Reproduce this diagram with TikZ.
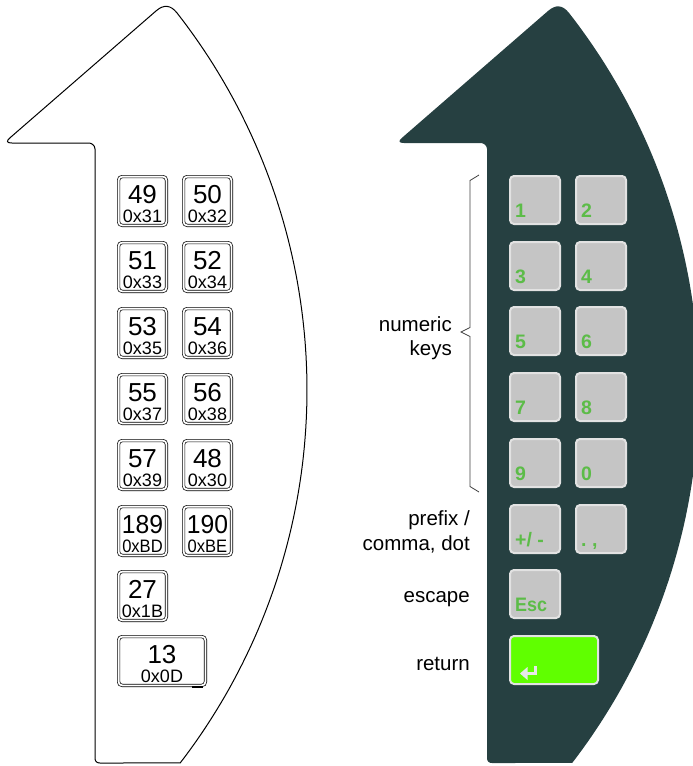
\documentclass[tikz,border=0pt]{standalone}
\usepackage{fontspec}
\setmainfont{Liberation Sans}
\usepackage{graphicx}
\definecolor{panel}{RGB}{38,64,65}
\definecolor{keygray}{RGB}{197,197,197}
\definecolor{keyborder}{RGB}{226,226,226}
\definecolor{keygreen}{RGB}{92,188,72}
\definecolor{retgreen}{RGB}{96,255,0}
\definecolor{arrowcol}{RGB}{232,232,232}
\tikzset{
  outline/.style={draw=black, line width=1pt},
  lkey/.style={draw=black, double=white, double distance=1.8pt, line width=0.7pt, rounded corners=3.5pt, inner sep=0pt},
  bignum/.style={font=\fontsize{26}{26}\selectfont, anchor=base, inner sep=0pt},
  smallnum/.style={font=\fontsize{18}{18}\selectfont, anchor=base, inner sep=0pt},
  rkey/.style={draw=keyborder, fill=keygray, line width=2pt, rounded corners=4pt, inner sep=0pt},
  rlab/.style={font=\bfseries\fontsize{19.5}{19.5}\selectfont, text=keygreen, anchor=base west, inner sep=0pt},
  desc/.style={font=\fontsize{20.5}{20.5}\selectfont, anchor=base east, inner sep=0pt},
  bracestyle/.style={draw=black!75, line width=0.8pt},
}
\newcommand\armpath{(100,763) .. controls (96.7,763) and (95,761.3) .. (95,758) -- (95,149) .. controls (95,145) and (91,143) .. (89,143) -- (12,143) .. controls (6.7,143) and (6.0,141.3) .. (10.0,137.8) -- (156.2,10.8) .. controls (163.7,4.3) and (170.6,4.9) .. (176.8,12.7) -- plot[domain=-38.06:37.55, samples=90] ({-305+612*cos(\x)},{390+612*sin(\x)}) -- cycle}
\newcommand\lkey[6]{%
  \pgfmathsetmacro\kw{#4-3.2}%
  \node[lkey, minimum width=\kw pt, minimum height=48.8pt] (#1) at ({#2+#4/2},{#3+26}) {};
  \node[bignum] (#1b) at ({#2+#4/2},{#3+28}) {#5};
  \node[smallnum] (#1s) at ({#2+#4/2},{#3+47}) {#6};
}
\newcommand\rkey[5]{%
  \pgfmathsetmacro\kw{#4-2}%
  \node[rkey, minimum width=\kw pt, minimum height=48pt] (#1) at ({#2+#4/2},{#3+25}) {};
  \node[rlab] (#1l) at ({#2+6},{#3+42}) {#5};
}
\begin{document}
\begin{tikzpicture}[x=1pt,y=-1pt]
\useasboundingbox (0,0) rectangle (693,766);
% left outline
\draw[outline] \armpath;
% right panel
\begin{scope}[shift={(392,0)}]
  \fill[panel] \armpath;
\end{scope}
% left keys
\lkey{k49}{117}{175}{51}{49}{0x31}
\lkey{k50}{182}{175}{51}{50}{0x32}
\lkey{k51}{117}{241}{51}{51}{0x33}
\lkey{k52}{182}{241}{51}{52}{0x34}
\lkey{k53}{117}{307}{51}{53}{0x35}
\lkey{k54}{182}{307}{51}{54}{0x36}
\lkey{k55}{117}{373}{51}{55}{0x37}
\lkey{k56}{182}{373}{51}{56}{0x38}
\lkey{k57}{117}{439}{51}{57}{0x39}
\lkey{k48}{182}{439}{51}{48}{0x30}
\lkey{k189}{117}{505}{51}{\scalebox{0.95}[1]{189}}{\scalebox{0.92}[1]{0xBD}}
\lkey{k190}{182}{505}{51}{\scalebox{0.95}[1]{190}}{\scalebox{0.92}[1]{0xBE}}
\lkey{k27}{117}{570}{51}{27}{0x1B}
\lkey{k13}{117}{635}{90}{13}{0x0D}
\draw[line width=1.8pt] (192,687) -- (203,687);
% right keys
\rkey{r1}{509}{175}{52}{1}
\rkey{r2}{575}{175}{52}{2}
\rkey{r3}{509}{241}{52}{3}
\rkey{r4}{575}{241}{52}{4}
\rkey{r5}{509}{306}{52}{5}
\rkey{r6}{575}{306}{52}{6}
\rkey{r7}{509}{372}{52}{7}
\rkey{r8}{575}{372}{52}{8}
\rkey{r9}{509}{438}{52}{9}
\rkey{r0}{575}{438}{52}{0}
\rkey{rpm}{509}{504}{52}{+/ -}
\rkey{rdot}{575}{504}{52}{.\ ,}
\rkey{resc}{509}{569}{52}{\scalebox{0.92}[1]{Esc}}
\node[rkey, fill=retgreen, minimum width=88pt, minimum height=48pt] (rret) at (554,660) {};
\fill[arrowcol] (520,673.5) -- (527.5,667) -- (527.5,680) -- cycle;
\draw[arrowcol, line width=3pt] (526,673.5) -- (535,673.5) -- (535,665.5);
% brace
\draw[bracestyle] (479,175) -- (470,180.5) -- (470,327.5) -- (461,332) -- (470,336.5) -- (470,486.5) -- (479,492);
% descriptions
\node[desc] (dnum1) at (452,331) {numeric};
\node[desc] (dnum2) at (452,355) {keys};
\node[desc] (dpre1) at (470,525) {prefix /};
\node[desc] (dpre2) at (470,550) {comma, dot};
\node[desc] (desc) at (470,602) {escape};
\node[desc] (dret) at (470,670) {return};
\end{tikzpicture}
\end{document}
